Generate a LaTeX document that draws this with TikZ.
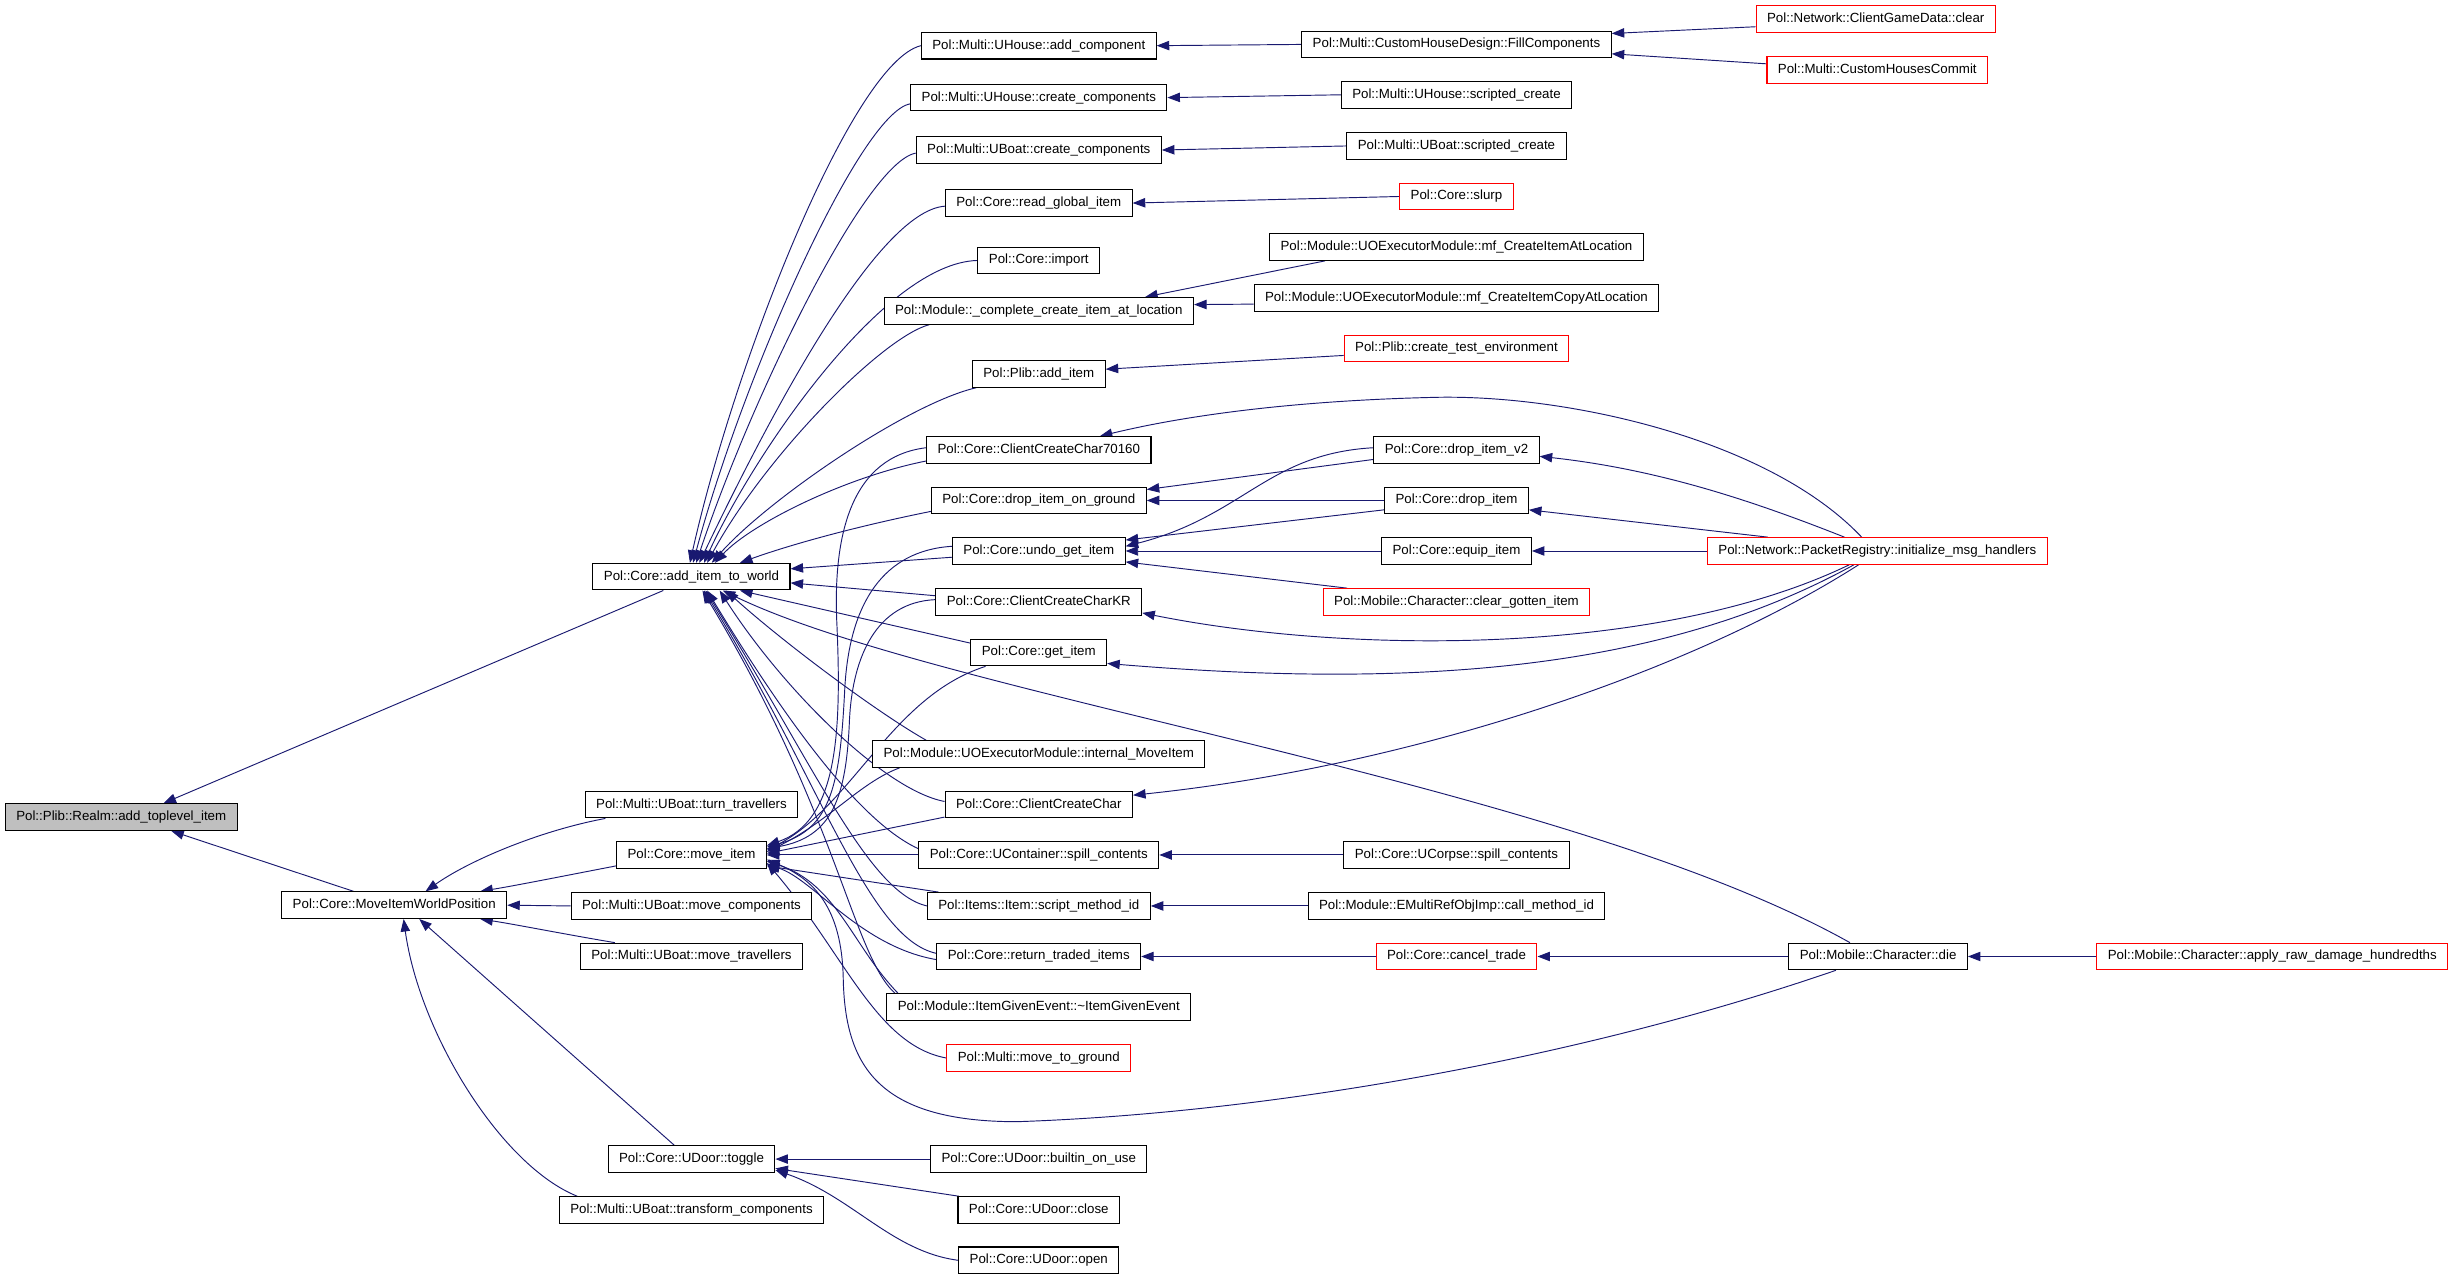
\documentclass[tikz,border=0pt]{standalone}
\usepackage{fontspec}
\setmainfont{Liberation Sans}
\usetikzlibrary{arrows.meta}
\definecolor{edgeblue}{RGB}{25,25,112}
\definecolor{rootgray}{RGB}{191,191,191}
\pgfdeclarelayer{bg}
\pgfsetlayers{bg,main}
\begin{document}
\begin{tikzpicture}[x=1pt,y=-1pt,
  box/.style={draw, line width=0.7pt, fill=white, rectangle, inner xsep=7pt, inner ysep=0pt,
    minimum height=17pt, text height=6.2pt, text depth=1.8pt, font=\fontsize{8.5}{10}\selectfont},
  redbox/.style={box, draw=red},
  e/.style={draw=edgeblue, line width=0.6pt, -{Triangle[length=8pt,width=6pt]}}]
\useasboundingbox (0,0) rectangle (1568,818);
% column 0/1/2
\node[box, fill=rootgray] (root) at (77.5,522.3) {Pol::Plib::Realm::add\_toplevel\_item};
\node[box] (aitw) at (442,368.6) {Pol::Core::add\_item\_to\_world};
\node[box] (miwp) at (252,578.6) {Pol::Core::MoveItemWorldPosition};
\node[box] (turn) at (442,514.3) {Pol::Multi::UBoat::turn\_travellers};
\node[box] (mvitem) at (442,546.5) {Pol::Core::move\_item};
\node[box] (mvcomp) at (442,579.1) {Pol::Multi::UBoat::move\_components};
\node[box] (mvtrav) at (442,611.4) {Pol::Multi::UBoat::move\_travellers};
\node[box] (toggle) at (442,740.9) {Pol::Core::UDoor::toggle};
\node[box] (transf) at (442,773.5) {Pol::Multi::UBoat::transform\_components};
% column 3
\node[box] (ac) at (664,29.2) {Pol::Multi::UHouse::add\_component};
\node[box] (hc) at (664,62.4) {Pol::Multi::UHouse::create\_components};
\node[box] (bc) at (664,95.9) {Pol::Multi::UBoat::create\_components};
\node[box] (rg) at (664,129.8) {Pol::Core::read\_global\_item};
\node[box] (imp) at (664,166.5) {Pol::Core::import};
\node[box] (cc) at (664,198.7) {Pol::Module::\_complete\_create\_item\_at\_location};
\node[box] (pa) at (664,239) {Pol::Plib::add\_item};
\node[box] (cseventy) at (664,287.7) {Pol::Core::ClientCreateChar70160};
\node[box] (dog) at (664,319.9) {Pol::Core::drop\_item\_on\_ground};
\node[box] (ugi) at (664,352.2) {Pol::Core::undo\_get\_item};
\node[box] (kr) at (664,384.8) {Pol::Core::ClientCreateCharKR};
\node[box] (gi) at (664,417.1) {Pol::Core::get\_item};
\node[box] (imi) at (664,482) {Pol::Module::UOExecutorModule::internal\_MoveItem};
\node[box] (ccc) at (664,514.3) {Pol::Core::ClientCreateChar};
\node[box] (ucs) at (664,546.5) {Pol::Core::UContainer::spill\_contents};
\node[box] (smi) at (664,579.1) {Pol::Items::Item::script\_method\_id};
\node[box] (rti) at (664,611.4) {Pol::Core::return\_traded\_items};
\node[box] (ige) at (664,643.7) {Pol::Module::ItemGivenEvent::\textasciitilde ItemGivenEvent};
\node[redbox] (mtg) at (664,676.3) {Pol::Multi::move\_to\_ground};
\node[box] (bou) at (664,740.9) {Pol::Core::UDoor::builtin\_on\_use};
\node[box] (clo) at (664,773.5) {Pol::Core::UDoor::close};
\node[box] (ope) at (664,805.6) {Pol::Core::UDoor::open};
% column 4
\node[box] (fc) at (931,28.4) {Pol::Multi::CustomHouseDesign::FillComponents};
\node[box] (hsc) at (931,60.6) {Pol::Multi::UHouse::scripted\_create};
\node[box] (bsc) at (931,93.3) {Pol::Multi::UBoat::scripted\_create};
\node[redbox] (slurp) at (931,125.6) {Pol::Core::slurp};
\node[box] (mfa) at (931,157.9) {Pol::Module::UOExecutorModule::mf\_CreateItemAtLocation};
\node[box] (mfc) at (931,190.4) {Pol::Module::UOExecutorModule::mf\_CreateItemCopyAtLocation};
\node[redbox] (cte) at (931,222.7) {Pol::Plib::create\_test\_environment};
\node[box] (dvtwo) at (931,287.7) {Pol::Core::drop\_item\_v2};
\node[box] (di) at (931,319.9) {Pol::Core::drop\_item};
\node[box] (eq) at (931,352.2) {Pol::Core::equip\_item};
\node[redbox] (cgi) at (931,384.8) {Pol::Mobile::Character::clear\_gotten\_item};
\node[box] (ucorpse) at (931,546.5) {Pol::Core::UCorpse::spill\_contents};
\node[box] (cmi) at (931,579.1) {Pol::Module::EMultiRefObjImp::call\_method\_id};
\node[redbox] (ct) at (931,611.4) {Pol::Core::cancel\_trade};
% column 5/6
\node[redbox] (cgd) at (1199,12.1) {Pol::Network::ClientGameData::clear};
\node[redbox] (chc) at (1200,44.8) {Pol::Multi::CustomHousesCommit};
\node[redbox] (pr) at (1200,352.2) {Pol::Network::PacketRegistry::initialize\_msg\_handlers};
\node[box] (die) at (1200.5,611.4) {Pol::Mobile::Character::die};
\node[redbox] (ard) at (1452.5,611.4) {Pol::Mobile::Character::apply\_raw\_damage\_hundredths};

\begin{pgfonlayer}{bg}
\fill[white] (0,0) rectangle (1568,818);
% to root
\draw[e] ([xshift=-18pt]aitw.south) -- ([xshift=27pt]root.north);
\draw[e] ([xshift=-26pt]miwp.north) -- ([xshift=32pt]root.south);
% to MoveItemWorldPosition
\draw[e] ([xshift=-55pt]turn.south) .. controls (345,531) and (300,550) .. ([xshift=20pt]miwp.north);
\draw[e] ([yshift=-7pt]mvitem.west) .. controls (360,560) and (330,566) .. ([xshift=55pt]miwp.north);
\draw[e] (mvcomp.west) -- (miwp.east);
\draw[e] ([xshift=-49pt]mvtrav.north) .. controls (360,597) and (330,591) .. ([xshift=55pt]miwp.south);
\draw[e] ([xshift=-11pt]toggle.north) -- ([xshift=16pt]miwp.south);
\draw[e] ([xshift=-73pt]transf.north) .. controls (320,745) and (268,660) .. ([xshift=6pt]miwp.south);
% to add_item_to_world (top)
\draw[e] (ac.west) .. controls (545,40) and (470,230) .. ([xshift=-1pt]aitw.north);
\draw[e] ([yshift=-4pt]hc.west) .. controls (550,72) and (475,240) .. ([xshift=1pt]aitw.north);
\draw[e] ([yshift=-2pt]bc.west) .. controls (553,104) and (480,255) .. ([xshift=3pt]aitw.north);
\draw[e] ([yshift=-2pt]rg.west) .. controls (560,135) and (490,270) .. ([xshift=5pt]aitw.north);
\draw[e] (imp.west) .. controls (565,168) and (482,290) .. ([xshift=8pt]aitw.north);
\draw[e] ([xshift=-70pt]cc.south) .. controls (565,215) and (490,290) .. ([xshift=10pt]aitw.north);
\draw[e] ([xshift=-40pt]pa.south) .. controls (580,258) and (490,320) .. ([xshift=13pt]aitw.north);
\draw[e] ([yshift=-7pt]cseventy.west) .. controls (540,305) and (480,335) .. ([xshift=15pt]aitw.north);
\draw[e] ([yshift=-7pt]dog.west) .. controls (540,338) and (500,350) .. ([xshift=31pt]aitw.north);
% to add_item_to_world (east)
\draw[e] ([yshift=-4pt]ugi.west) -- ([yshift=5pt]aitw.east);
\draw[e] ([yshift=4pt]kr.west) -- ([yshift=-4pt]aitw.east);
% to add_item_to_world (bottom)
\draw[e] ([yshift=6pt]gi.west) -- ([xshift=31pt]aitw.south);
\draw[e] ([xshift=-72pt]imi.north) .. controls (560,455) and (500,410) .. ([xshift=22pt]aitw.south);
\draw[e] ([yshift=2pt]ccc.west) .. controls (565,505) and (500,440) .. ([xshift=18pt]aitw.south);
\draw[e] ([yshift=4pt]ucs.west) .. controls (560,530) and (520,490) .. ([xshift=10pt]aitw.south);
\draw[e] (smi.west) .. controls (555,570) and (522,492) .. ([xshift=9pt]aitw.south);
\draw[e] ([yshift=2pt]rti.west) .. controls (555,600) and (525,500) .. ([xshift=8pt]aitw.south);
\draw[e] ([xshift=-92pt]ige.north) .. controls (545,610) and (535,520) .. ([xshift=7pt]aitw.south);
\draw[e] ([xshift=-18pt]die.north) .. controls (1000,500) and (600,445) .. ([xshift=20pt]aitw.south);
% to move_item
\draw[e] ([yshift=1.5pt]cseventy.west) .. controls (545,292) and (532,340) .. (535,400) .. controls (538,470) and (535,525) .. ([yshift=6pt]mvitem.east);
\draw[e] ([yshift=3pt]ugi.west) .. controls (565,352) and (543,385) .. (540,440) .. controls (537,500) and (532,530) .. ([yshift=5pt]mvitem.east);
\draw[e] ([yshift=1.5pt]kr.west) .. controls (560,385) and (545,420) .. (543,460) .. controls (541,510) and (532,535) .. ([yshift=4pt]mvitem.east);
\draw[e] ([xshift=-34pt]gi.south) .. controls (570,445) and (545,515) .. ([yshift=3pt]mvitem.east);
\draw[e] ([xshift=-89pt]imi.south) .. controls (550,500) and (530,525) .. ([yshift=2pt]mvitem.east);
\draw[e] ([yshift=-8pt]ccc.west) -- ([yshift=1pt]mvitem.east);
\draw[e] (ucs.west) -- (mvitem.east);
\draw[e] ([xshift=-64pt]smi.north) -- ([yshift=-7pt]mvitem.east);
\draw[e] ([yshift=-2pt]rti.west) .. controls (550,605) and (520,562) .. ([yshift=-6pt]mvitem.east);
\draw[e] ([xshift=-90pt]ige.north) .. controls (545,605) and (535,565) .. ([yshift=-4pt]mvitem.east);
\draw[e] (mtg.west) .. controls (560,668) and (540,610) .. ([yshift=-5pt]mvitem.east);
\draw[e] ([xshift=-27pt]die.south) .. controls (1000,680) and (800,712) .. (650,717) .. controls (560,717) and (540,680) .. (539,625) .. controls (538,580) and (520,562) .. ([yshift=-3pt]mvitem.east);
% to toggle
\draw[e] (bou.west) -- (toggle.east);
\draw[e] ([xshift=-51pt]clo.north) -- ([yshift=-6pt]toggle.east);
\draw[e] (ope.west) .. controls (570,800) and (545,765) .. ([yshift=-7pt]toggle.east);
% column 4 to column 3
\draw[e] (fc.west) -- (ac.east);
\draw[e] (hsc.west) -- (hc.east);
\draw[e] (bsc.west) -- (bc.east);
\draw[e] (slurp.west) -- (rg.east);
\draw[e] ([xshift=-84pt]mfa.south) -- ([xshift=68pt]cc.north);
\draw[e] ([yshift=-4pt]mfc.west) -- ([yshift=4pt]cc.east);
\draw[e] ([yshift=-4.5pt]cte.west) -- ([yshift=3pt]pa.east);
\draw[e] (ucorpse.west) -- (ucs.east);
\draw[e] (cmi.west) -- (smi.east);
\draw[e] (ct.west) -- (rti.east);
\draw[e] ([yshift=-6pt]dvtwo.west) -- ([yshift=7pt]dog.east);
\draw[e] ([yshift=1.5pt]dvtwo.west) .. controls (810,290) and (795,330) .. ([yshift=3pt]ugi.east);
\draw[e] (di.west) -- (dog.east);
\draw[e] ([yshift=-6pt]di.west) -- ([yshift=7pt]ugi.east);
\draw[e] (eq.west) -- (ugi.east);
\draw[e] ([xshift=-70pt]cgi.north) -- ([yshift=-7pt]ugi.east);
% column 5 to column 4/3
\draw[e] ([yshift=-5pt]cgd.west) -- ([yshift=7pt]fc.east);
\draw[e] ([yshift=4pt]chc.west) -- ([yshift=-6pt]fc.east);
\draw[e] (pr.west) -- (eq.east);
\draw[e] ([xshift=-70pt]pr.north) -- ([yshift=-6pt]di.east);
\draw[e] ([xshift=-21pt]pr.north) .. controls (1120,320) and (1060,300) .. ([yshift=-4pt]dvtwo.east);
\draw[e] ([xshift=-10pt]pr.north) .. controls (1130,280) and (1000,252) .. (917,254) .. controls (830,256) and (760,265) .. ([xshift=39pt]cseventy.north);
\draw[e] ([xshift=-18pt]pr.south) .. controls (1060,420) and (860,418) .. ([yshift=-7pt]kr.east);
\draw[e] ([xshift=-15pt]pr.south) .. controls (1060,430) and (900,440) .. ([yshift=-7pt]gi.east);
\draw[e] ([xshift=-12pt]pr.south) .. controls (1080,430) and (900,490) .. ([yshift=6pt]ccc.east);
\draw[e] (die.west) -- (ct.east);
\draw[e] (ard.west) -- (die.east);
\end{pgfonlayer}
\end{tikzpicture}
\end{document}
